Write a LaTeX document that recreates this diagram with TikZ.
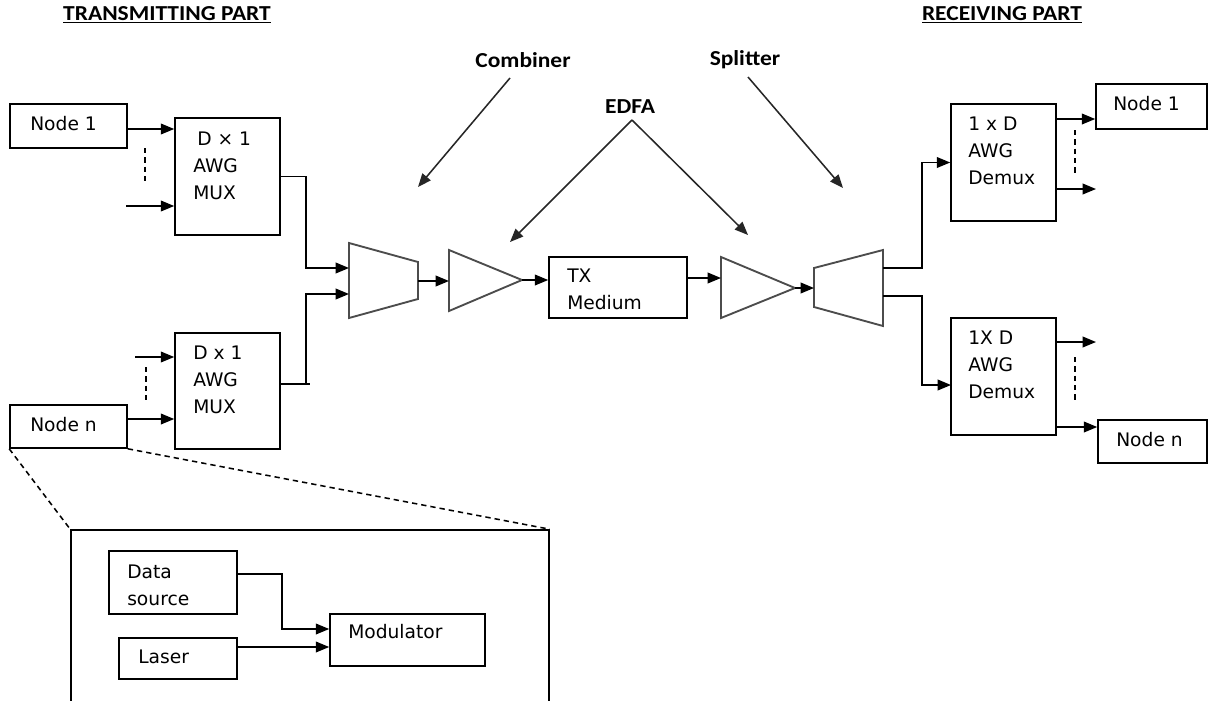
\documentclass[tikz,border=0pt]{standalone}
\usepackage{fontspec}
\setmainfont{DejaVu Sans}
\newfontfamily\hdrfont[FakeStretch=1.1]{Carlito}
\usetikzlibrary{arrows.meta,fit}
\begin{document}
\begin{tikzpicture}[x=0.75pt,y=-0.75pt,
  box/.style={draw,line width=1.2pt,inner sep=0pt},
  dev/.style={draw=black!70,line width=1.4pt,line join=miter},
  txt/.style={anchor=west,inner sep=0pt,align=left,font=\fontsize{14}{20.25}\selectfont},
  hdr/.style={inner sep=0pt,font=\hdrfont\bfseries\fontsize{16}{19}\selectfont},
  lbl/.style={inner sep=0pt,font=\hdrfont\bfseries\fontsize{16}{19}\selectfont},
  wire/.style={line width=1.15pt},
  arr/.style={wire,-{Triangle[length=10pt,width=8pt]}},
  larr/.style={line width=1.15pt,draw=black!85,-{Triangle[length=10pt,width=8pt]}},
  dsh/.style={line width=1.15pt,dash pattern=on 4pt off 3pt}]
\fill[white] (0,0) rectangle (1209,700);
\useasboundingbox (0,0) rectangle (1209,700);

% headers and labels
\node[hdr] (thdr) at (167,15) {\underline{TRANSMITTING PART}};
\node[hdr] (rhdr) at (1002,15) {\underline{RECEIVING PART}};
\node[lbl] (cmb) at (523,60) {Combiner};
\node[lbl] (edfa) at (630,107) {EDFA};
\node[lbl] (spl) at (745,60) {Splitter};

% boxes
\node[box,fit={(10,104) (127,148)}] (n1L) {};
\node[box,fit={(175,118) (280,235)}] (mux1) {};
\node[box,fit={(175,333) (280,449)}] (mux2) {};
\node[box,fit={(10,405) (127,448)}] (nnL) {};
\node[box,fit={(549,257) (687,318)}] (tx) {};
\node[box,fit={(951,104) (1056,221)}] (dm1) {};
\node[box,fit={(951,318) (1056,435)}] (dm2) {};
\node[box,fit={(1096,84) (1207,129)}] (n1R) {};
\node[box,fit={(1098,420) (1207,463)}] (nnR) {};
\node[box,fit={(71,530) (549,704)}] (inset) {};
\node[box,fit={(109,551) (237,614)}] (ds) {};
\node[box,fit={(119,638) (237,679)}] (las) {};
\node[box,fit={(330,614) (485,666)}] (mod) {};

% texts
\node[txt] (tn1L) at (30,124) {Node 1};
\node[txt] (tmux1) at (193,166) {\hspace{3pt}D × 1\\AWG\\MUX};
\node[txt] (tmux2) at (193,380) {D x 1\\AWG\\MUX};
\node[txt] (tnnL) at (30,425) {Node n};
\node[txt] (ttx) at (567,289) {TX\\Medium};
\node[txt] (tdm1) at (968,151) {1 x D\\AWG\\Demux};
\node[txt] (tdm2) at (968,365) {1X D\\AWG\\Demux};
\node[txt] (tn1R) at (1113,104) {Node 1};
\node[txt] (tnnR) at (1116,440) {Node n};
\node[txt] (tds) at (127,585) {Data\\source};
\node[txt] (tlas) at (138,657) {Laser};
\node[txt] (tmod) at (348,632) {Modulator};

% combiner, amplifiers, splitter
\draw[dev] (349,243) -- (418,262) -- (418,299) -- (349,318) -- cycle;
\coordinate (cin1) at (349,268);
\coordinate (cin2) at (349,294);
\coordinate (cout) at (418,281);
\draw[dev] (449,250) -- (522,280) -- (449,311) -- cycle;
\coordinate (a1in) at (449,281);
\coordinate (a1tip) at (522,280);
\draw[dev] (721,257) -- (795,288) -- (721,318) -- cycle;
\coordinate (a2in) at (721,278);
\coordinate (a2tip) at (795,288);
\draw[dev] (814,268) -- (883,250) -- (883,326) -- (814,307) -- cycle;
\coordinate (sin) at (814,288);
\coordinate (so1) at (883,268);
\coordinate (so2) at (883,296);

% transmitter side connectors
\coordinate (p1) at (127,129);
\draw[arr] (p1) -- (p1 -| mux1.west);
\coordinate (p2) at (126,206);
\draw[arr] (p2) -- (p2 -| mux1.west);
\draw[dsh] (145,148) -- (145,183);
\coordinate (p3) at (135,357);
\draw[arr] (p3) -- (p3 -| mux2.west);
\draw[dsh] (146,367) -- (146,403);
\coordinate (p4) at (127,419);
\draw[arr] (p4) -- (p4 -| mux2.west);
\coordinate (jA) at (306,268);
\draw[arr] (mux1.east) -| (jA) -- (cin1);
\coordinate (m2o) at (280,384);
\coordinate (jB) at (306,294);
\draw[wire] (m2o) -- ++(30,0);
\draw[arr] (m2o) -| (jB) -- (cin2);
\draw[arr] (cout) -- (a1in);
\draw[arr] (a1tip) -- (a1tip -| tx.west);
\draw[arr] (a2in -| tx.east) -- (a2in);
\draw[arr] (a2tip) -- (sin);

% receiver side connectors
\draw[arr] (so1) -- ++(39,0) |- (dm1.west);
\coordinate (dm2in) at (951,385);
\draw[arr] (so2) -- ++(39,0) |- (dm2in);
\coordinate (q1) at (1056,119);
\draw[arr] (q1) -- (q1 -| n1R.west);
\coordinate (q2) at (1056,189);
\draw[arr] (q2) -- ++(40,0);
\draw[dsh] (1075,130) -- (1075,174);
\coordinate (q3) at (1056,342);
\draw[arr] (q3) -- ++(40,0);
\draw[dsh] (1075,357) -- (1075,402);
\coordinate (q4) at (1056,427);
\draw[arr] (q4) -- (q4 -| nnR.west);

% inset
\draw[dsh] (nnL.south west) -- (inset.north west);
\draw[dsh] (nnL.south east) -- (inset.north east);
\coordinate (r1) at (237,574);
\coordinate (jD) at (282,629);
\draw[arr] (r1) -| (jD) -- (jD -| mod.west);
\coordinate (r2) at (237,647);
\draw[arr] (r2) -- (r2 -| mod.west);

% label arrows
\coordinate (cmbS) at (510,78);
\coordinate (cmbT) at (418,187);
\draw[larr] (cmbS) -- (cmbT);
\coordinate (edS) at (632,120);
\coordinate (edT1) at (510,242);
\coordinate (edT2) at (748,235);
\draw[larr] (edS) -- (edT1);
\draw[larr] (edS) -- (edT2);
\coordinate (splS) at (748,77);
\coordinate (splT) at (843,188);
\draw[larr] (splS) -- (splT);
\end{tikzpicture}
\end{document}
